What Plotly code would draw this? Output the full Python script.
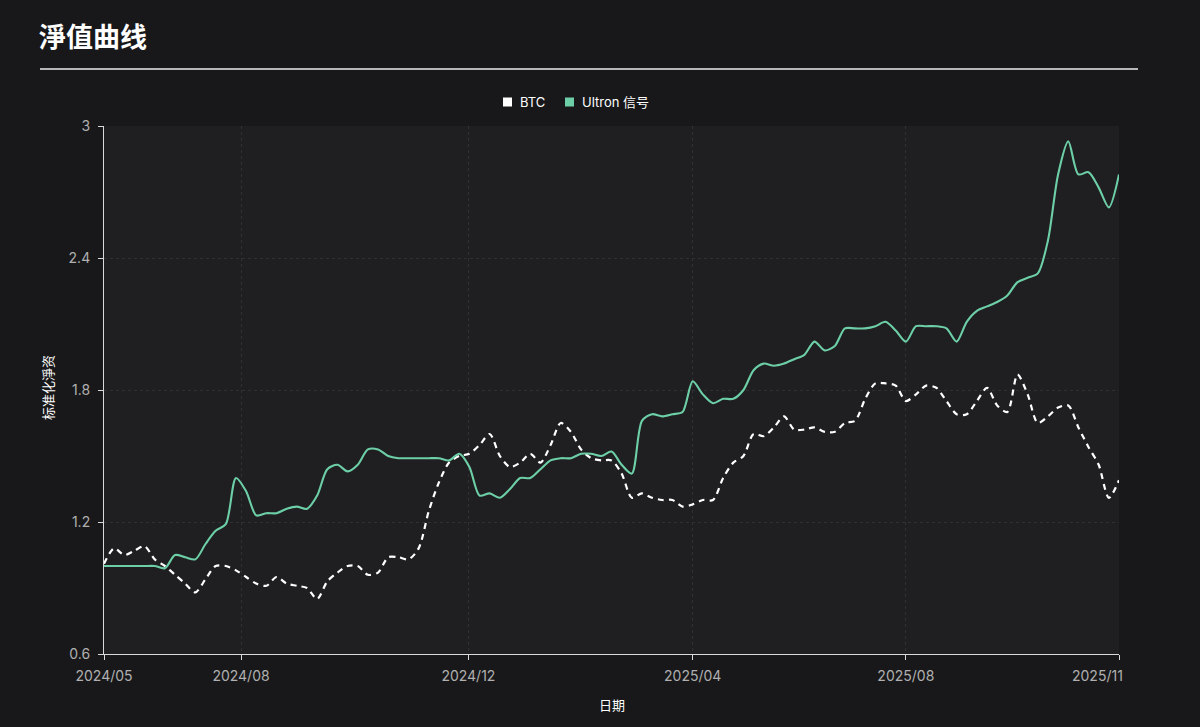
import plotly.graph_objects as go

# x positions are sample indices along the period (0 = 2024/05, 100 = 2025/11)
period_index = list(range(101))

ultron = [1.00, 1.00, 1.00, 1.00, 1.00, 1.00, 0.99, 1.05, 1.04, 1.03,
          1.10, 1.16, 1.19, 1.40, 1.34, 1.23, 1.24, 1.24, 1.26, 1.27,
          1.26, 1.32, 1.44, 1.46, 1.43, 1.46, 1.53, 1.53, 1.50, 1.49,
          1.49, 1.49, 1.49, 1.49, 1.48, 1.51, 1.45, 1.32, 1.33, 1.31,
          1.35, 1.40, 1.40, 1.44, 1.48, 1.49, 1.49, 1.51, 1.51, 1.50,
          1.52, 1.46, 1.42, 1.66, 1.69, 1.68, 1.69, 1.70, 1.84, 1.78,
          1.74, 1.76, 1.76, 1.80, 1.89, 1.92, 1.91, 1.92, 1.94, 1.96,
          2.02, 1.98, 2.00, 2.08, 2.08, 2.08, 2.09, 2.11, 2.07, 2.02,
          2.09, 2.09, 2.09, 2.08, 2.02, 2.11, 2.16, 2.18, 2.20, 2.23,
          2.29, 2.31, 2.33, 2.48, 2.78, 2.93, 2.78, 2.79, 2.72, 2.63,
          2.78]

btc = [1.01, 1.08, 1.05, 1.07, 1.09, 1.03, 1.00, 0.96, 0.92, 0.88,
       0.94, 1.00, 1.00, 0.98, 0.95, 0.92, 0.91, 0.95, 0.92, 0.91,
       0.90, 0.85, 0.93, 0.97, 1.00, 1.00, 0.96, 0.97, 1.04, 1.04,
       1.03, 1.08, 1.25, 1.38, 1.47, 1.50, 1.51, 1.55, 1.60, 1.50,
       1.45, 1.47, 1.51, 1.47, 1.55, 1.65, 1.61, 1.53, 1.49, 1.48,
       1.48, 1.42, 1.31, 1.33, 1.31, 1.30, 1.30, 1.27, 1.28, 1.30,
       1.30, 1.40, 1.47, 1.50, 1.60, 1.59, 1.63, 1.68, 1.62, 1.62,
       1.63, 1.61, 1.61, 1.65, 1.66, 1.76, 1.83, 1.83, 1.82, 1.75,
       1.78, 1.82, 1.81, 1.75, 1.69, 1.69, 1.75, 1.81, 1.73, 1.70,
       1.87, 1.78, 1.65, 1.68, 1.72, 1.73, 1.63, 1.54, 1.46, 1.31,
       1.39]

x_tick_index = [0, 13.5, 35.9, 58.0, 79.0, 100]
x_tick_labels = ["2024/05", "2024/08", "2024/12", "2025/04", "2025/08", "2025/11"]
y_tick_values = [0.6, 1.2, 1.8, 2.4, 3.0]
y_tick_labels = ["0.6", "1.2", "1.8", "2.4", "3"]

series_names = ["BTC", "Ultron 信号"]
series_colors = ["#ffffff", "#6dcfa7"]

FONT = "Inter, 'Noto Sans CJK SC', sans-serif"
PAGE_BG = "#18181a"
PLOT_BG = "#1f1f21"
AXIS_COL = "#d9d9d9"
GRID_COL = "#303033"
TICK_COL = "#b0b0b0"

# plot-area geometry in pixels (used to place title, legend and axis titles)
W, H = 1200, 727
L, R, T, B = 104, 1119, 126, 654
PW, PH = R - L, B - T


def px(xp):
    return (xp - L) / PW


def py(yp):
    return (B - yp) / PH


fig = go.Figure()

fig.add_trace(go.Scatter(
    x=period_index, y=btc, mode="lines", name=series_names[0],
    line=dict(color=series_colors[0], width=2.2, dash="6px,5px", shape="spline", smoothing=0.8),
    showlegend=False, hoverinfo="skip"))
fig.add_trace(go.Scatter(
    x=period_index, y=ultron, mode="lines", name=series_names[1],
    line=dict(color=series_colors[1], width=2.1, shape="spline", smoothing=0.8),
    showlegend=False, hoverinfo="skip"))

fig.update_layout(
    width=W, height=H,
    paper_bgcolor=PAGE_BG, plot_bgcolor=PLOT_BG,
    margin=dict(l=L, r=W - R, t=T, b=H - B, autoexpand=False),
    font=dict(family=FONT, color=TICK_COL, size=14),
    showlegend=False,
)

# last x label is drawn separately, right-aligned so it stays inside the page
axis_ticktext = x_tick_labels[:-1] + [""]

fig.update_xaxes(
    range=[0, 100], tickmode="array", tickvals=x_tick_index, ticktext=axis_ticktext,
    showline=True, linecolor=AXIS_COL, linewidth=1,
    ticks="outside", ticklen=5, tickcolor=AXIS_COL, tickwidth=1,
    showgrid=True, gridcolor=GRID_COL, griddash="3px,3px", gridwidth=1,
    zeroline=False, tickfont=dict(color=TICK_COL, size=14, family=FONT),
    ticklabelstandoff=4,
)
fig.update_yaxes(
    range=[0.6, 3.0], tickmode="array", tickvals=y_tick_values, ticktext=y_tick_labels,
    showline=True, linecolor=AXIS_COL, linewidth=1,
    ticks="outside", ticklen=5, tickcolor=AXIS_COL, tickwidth=1,
    showgrid=True, gridcolor=GRID_COL, griddash="3px,3px", gridwidth=1,
    zeroline=False, tickfont=dict(color=TICK_COL, size=14, family=FONT),
    ticklabelstandoff=5,
)

fig.add_annotation(text=x_tick_labels[-1], xref="paper", yref="paper",
                   x=px(1125), y=py(675), xanchor="right", yanchor="middle",
                   showarrow=False, font=dict(color=TICK_COL, size=14, family=FONT))

# title and divider
fig.add_annotation(text="<b>淨值曲线</b>", xref="paper", yref="paper",
                   x=px(37), y=py(38), xanchor="left", yanchor="middle",
                   showarrow=False, font=dict(size=27, color="#ffffff", family=FONT))
fig.add_shape(type="line", xref="paper", yref="paper",
              x0=px(40), x1=px(1138), y0=py(69), y1=py(69),
              line=dict(color="#ececec", width=1.3))

# legend (square swatches + labels)
legend_swatch_x = [507.5, 569.5]
legend_text_x = [518, 580]
for nm, col, sx, tx in zip(series_names, series_colors, legend_swatch_x, legend_text_x):
    fig.add_shape(type="rect", xref="paper", yref="paper",
                  x0=px(sx - 4.5), x1=px(sx + 4.5), y0=py(102 + 4.5), y1=py(102 - 4.5),
                  fillcolor=col, line=dict(width=0))
    fig.add_annotation(text=nm, xref="paper", yref="paper", x=px(tx), y=py(102),
                       xanchor="left", yanchor="middle", showarrow=False,
                       font=dict(size=13, color="#ffffff", family=FONT))

# axis titles
fig.add_annotation(text="标准化淨资", xref="paper", yref="paper",
                   x=px(48), y=py(388), xanchor="center", yanchor="middle",
                   textangle=-90, showarrow=False,
                   font=dict(size=13, color="#ffffff", family=FONT))
fig.add_annotation(text="日期", xref="paper", yref="paper",
                   x=px(612), y=py(705), xanchor="center", yanchor="middle",
                   showarrow=False, font=dict(size=13, color="#ffffff", family=FONT))

fig.write_html("out.html", config={"displayModeBar": False},
               post_script="document.body.style.margin='0';document.body.style.background='#18181a';")
